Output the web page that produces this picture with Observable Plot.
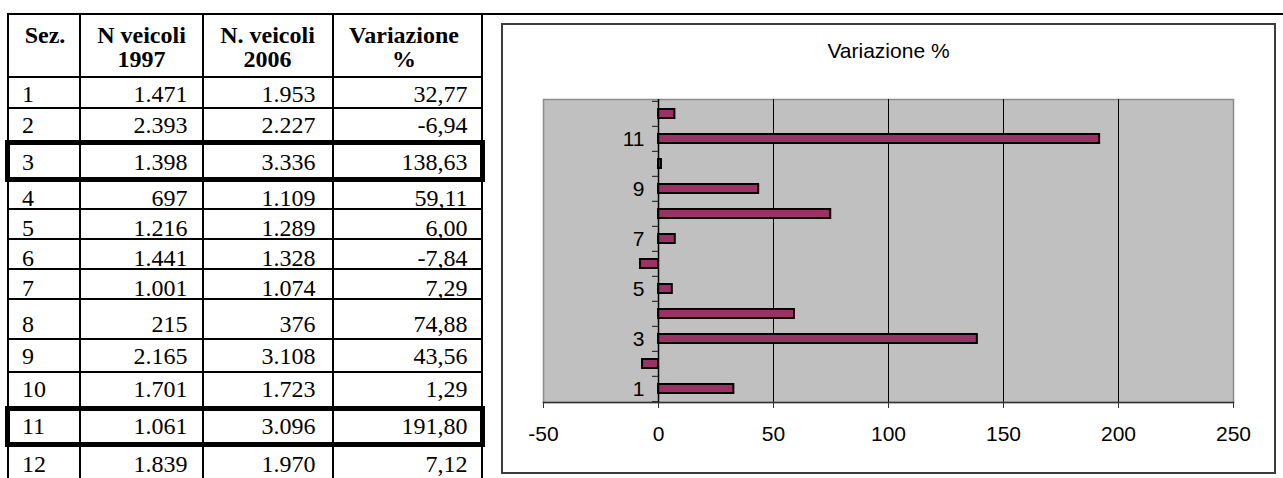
<!DOCTYPE html>
<html><head><meta charset="utf-8">
<script src="https://cdn.jsdelivr.net/npm/d3@7"></script>
<script src="https://cdn.jsdelivr.net/npm/@observablehq/plot@0.6"></script>
<style>
html,body{margin:0;padding:0;background:#fff;}
#page{position:relative;width:1283px;height:478px;overflow:hidden;background:#fff;}
.ln{position:absolute;background:#000;}
.box{position:absolute;border:5.5px solid #000;box-sizing:border-box;}
.t{position:absolute;font-family:"Liberation Serif","Times New Roman",serif;font-size:24px;line-height:30px;height:30px;white-space:nowrap;color:#000;}
.h{font-weight:bold;line-height:24.3px;height:auto;text-align:center;}
.r{text-align:right;}
#frame{position:absolute;left:501px;top:23px;width:775px;height:451px;border:2px solid #3c3c3c;box-sizing:border-box;}
#title{position:absolute;left:502px;top:40px;width:773px;text-align:center;font-family:"Liberation Sans",Arial,sans-serif;font-size:21px;line-height:21px;color:#000;}
#chart{position:absolute;left:502px;top:24px;}
</style></head><body><div id="page"></div>
<script>
// ---- data ----
const sezioni = ["1","2","3","4","5","6","7","8","9","10","11","12"];
const veicoli1997 = [1471, 2393, 1398, 697, 1216, 1441, 1001, 215, 2165, 1701, 1061, 1839];
const veicoli2006 = [1953, 2227, 3336, 1109, 1289, 1328, 1074, 376, 3108, 1723, 3096, 1970];
const variazione = [32.77, -6.94, 138.63, 59.11, 6.00, -7.84, 7.29, 74.88, 43.56, 1.29, 191.80, 7.12];
const evidenziate = ["3", "11"];
const intestazioni = [["Sez."], ["N veicoli", "1997"], ["N. veicoli", "2006"], ["Variazione", "%"]];
const titolo = "Variazione %";
const xTicks = [-50, 0, 50, 100, 150, 200, 250];
const yTickLabels = ["1", "3", "5", "7", "9", "11"];
const gridValues = [50, 100, 150, 200];

// ---- table layout (positions only) ----
const colLines = [8.3, 80, 203.3, 332.5, 481.7];
const thinRowLines = [76.5, 108, 209.3, 239.3, 269.3, 299.3, 339, 371.5];
const rowCenters = [93.5, 124.5, 161.5, 197.5, 227.5, 257.5, 287.5, 324, 356, 389, 425.5, 464];
const boxRows = {"3": [140, 182], "11": [406, 447]};
const headCenters = [45, 141.5, 267.5, 404];
const textRight = [null, 187.5, 315.5, 467.5];

const it = d3.formatLocale({decimal: ",", thousands: ".", grouping: [3], currency: ["", "€"], minus: "-"});
const fInt = it.format(",d");
const fPct = it.format(",.2f");

const page = document.getElementById("page");
function el(cls, css, text) {
  const d = document.createElement("div");
  d.className = cls;
  Object.assign(d.style, css);
  if (text !== undefined) d.innerHTML = text;
  page.appendChild(d);
  return d;
}
// top border
el("ln", {left: "7px", top: "12.8px", width: "1276px", height: "2.5px"});
colLines.forEach(x => el("ln", {left: (x - 1) + "px", top: "14px", width: "2px", height: "470px"}));
thinRowLines.forEach(y => el("ln", {left: "7.3px", top: (y - 1) + "px", width: "475.4px", height: "2px"}));
evidenziate.forEach(s => {
  const [y0, y1] = boxRows[s];
  el("box", {left: "5px", top: y0 + "px", width: "480px", height: (y1 - y0) + "px"});
});
// headers
intestazioni.forEach((h, j) => {
  el("t h", {left: (headCenters[j] - 80) + "px", width: "160px", top: (34.7 - 12.15) + "px"}, h.join("<br>"));
});
// rows
sezioni.forEach((s, i) => {
  const top = (rowCenters[i] - 15) + "px";
  el("t", {left: "22px", top}, s);
  const vals = [null, fInt(veicoli1997[i]), fInt(veicoli2006[i]), fPct(variazione[i])];
  for (let j = 1; j < 4; j++) {
    el("t r", {left: (textRight[j] - 150) + "px", width: "150px", top}, vals[j]);
  }
});

// ---- chart ----
el("", {}, "").id = "frame";
const tdiv = el("", {}, titolo); tdiv.id = "title";
const cdiv = el("", {}); cdiv.id = "chart";

const data = sezioni.map((s, i) => ({s, v: variazione[i]}));
const W = 773, H = 449, mL = 41, mR = 42, mT = 75, mB = 71;
const step = (H - mT - mB) / sezioni.length;
const chart = Plot.plot({
  width: W, height: H, marginLeft: mL, marginRight: mR, marginTop: mT, marginBottom: mB,
  style: {fontFamily: "'Liberation Sans', Arial, sans-serif", fontSize: "21px", background: "transparent", overflow: "visible", color: "#000"},
  x: {domain: [-50, 250], label: null},
  y: {type: "band", domain: sezioni.slice().reverse(), paddingInner: 0.64, paddingOuter: 0.32, axis: null, label: null},
  marks: [
    Plot.frame({fill: "#c0c0c0", stroke: "#8c8c8c", strokeWidth: 1.5}),
    Plot.ruleX(gridValues, {stroke: "#000", strokeWidth: 1}),
    Plot.barX(data, {x: "v", y: "s", fill: "#993366", stroke: "#000", strokeWidth: 2}),
    Plot.ruleX([0], {stroke: "#000", strokeWidth: 1.5}),
    Plot.ruleY(sezioni, {y: d => d, x1: 0, x2: 0, insetLeft: -6, dy: -step / 2, stroke: "#333", strokeWidth: 1.2}),
    Plot.ruleY(["1"], {y: d => d, x1: 0, x2: 0, insetLeft: -6, dy: step / 2, stroke: "#333", strokeWidth: 1.2}),
    Plot.text(yTickLabels, {x: 0, y: d => d, text: d => d, textAnchor: "end", dx: -14, fontSize: 21, fill: "#000"}),
    Plot.frame({anchor: "bottom", stroke: "#333", strokeWidth: 1.5}),
    Plot.axisX(xTicks, {label: null, tickSize: 6, tickPadding: 18, tickFormat: d => String(d), stroke: "#333", fill: "#000", fontSize: 21})
  ]
});
cdiv.appendChild(chart);
</script></body></html>
